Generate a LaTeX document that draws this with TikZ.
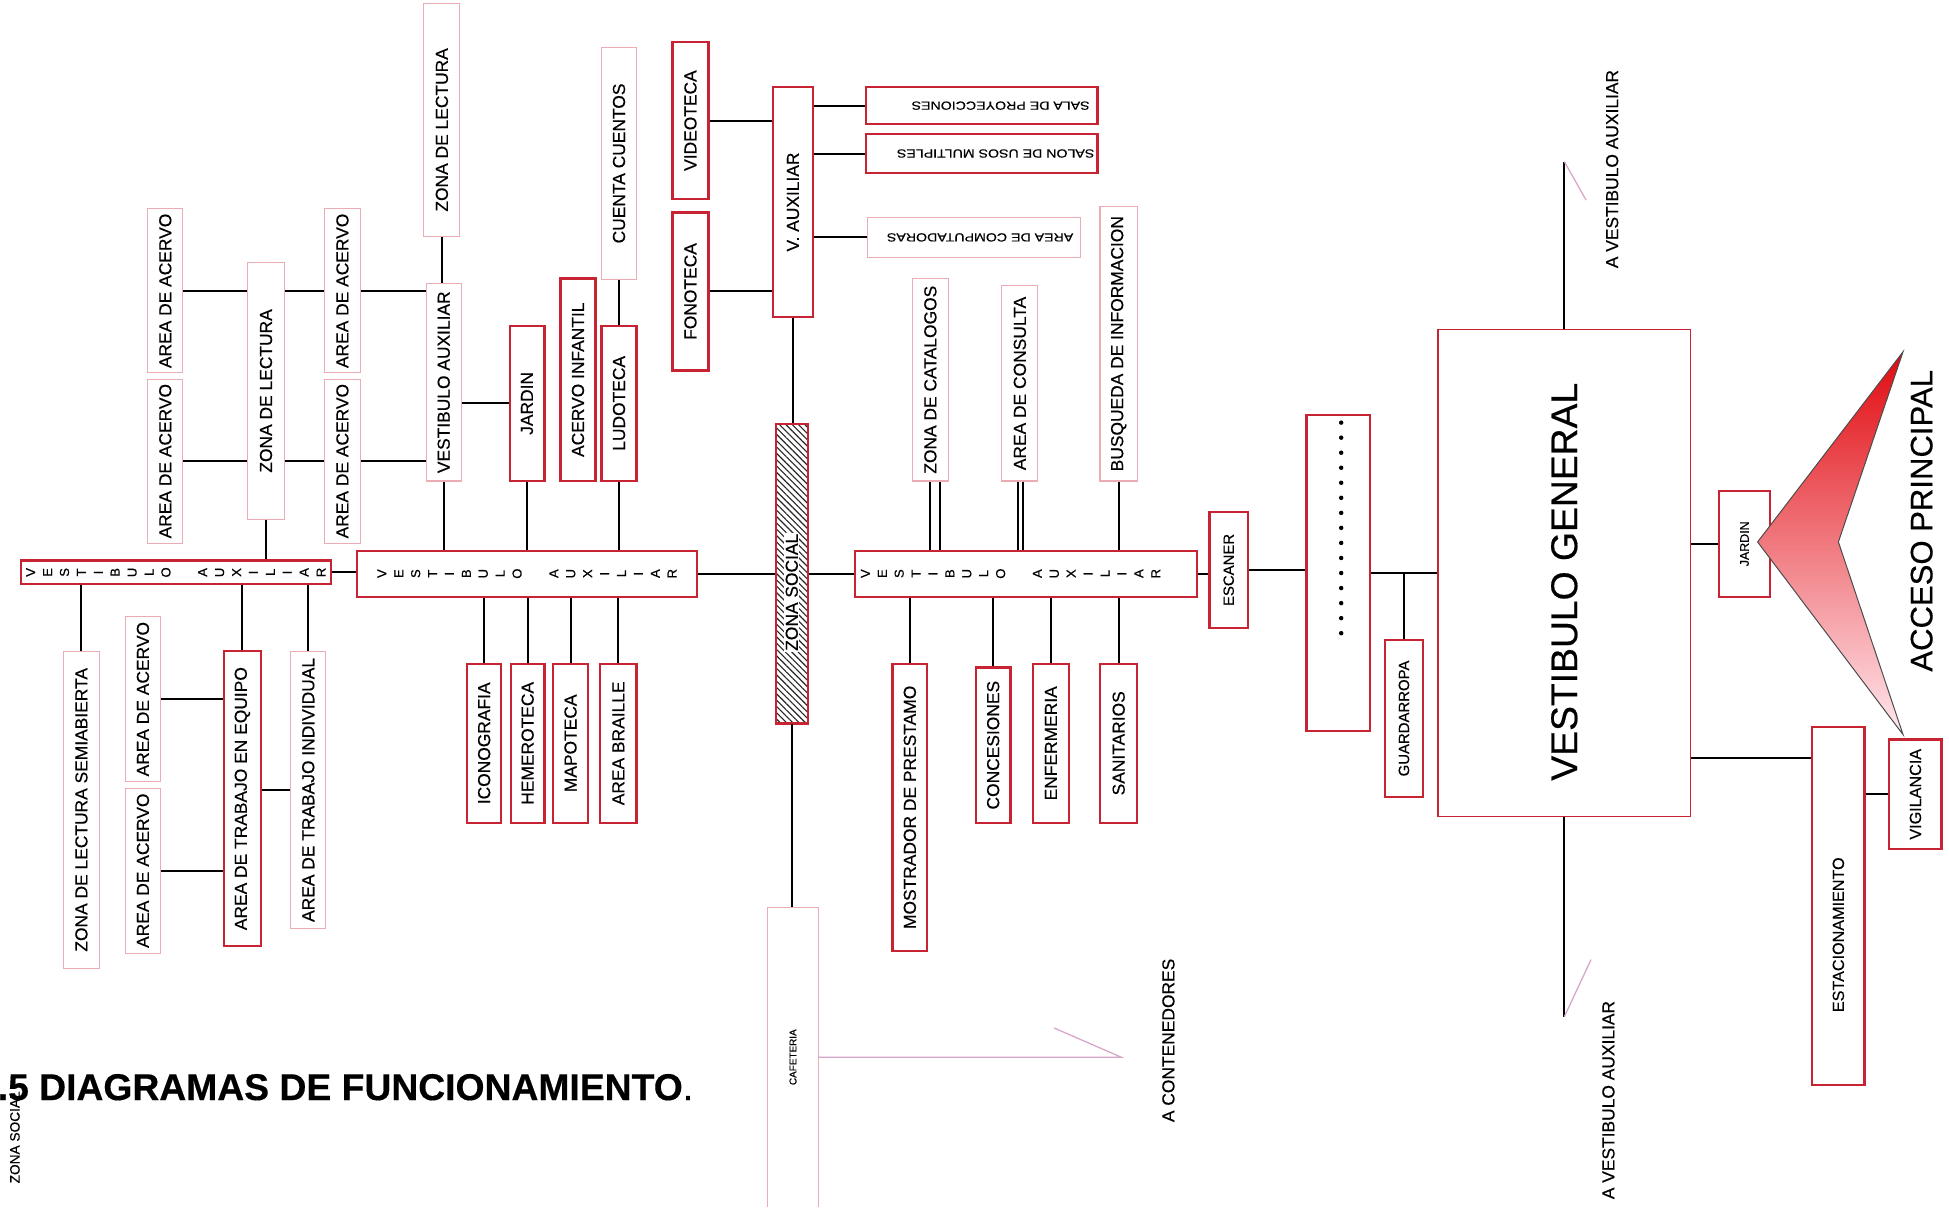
\documentclass[tikz,border=0pt]{standalone}
\usepackage{fontspec}
\setmainfont{Liberation Sans}[FakeBold=0.4]
\usepackage{graphicx}
\usetikzlibrary{patterns.meta}
\definecolor{boxred}{RGB}{200,35,50}
\definecolor{boxpink}{RGB}{236,172,182}
\definecolor{linepink}{RGB}{215,165,200}
\newcommand\rotv[1]{\rotatebox{90}{#1}}
\newcommand\rotu[1]{\rotatebox{180}{#1}}
\newcommand\rotl[1]{\makebox[13.6pt]{\rotatebox[origin=c]{90}{#1}}}
\newcommand\vestaux{\rotl{V}\rotl{E}\rotl{S}\rotl{T}\rotl{I}\rotl{B}\rotl{U}\rotl{L}\rotl{O}\hspace{16pt}\rotl{A}\rotl{U}\rotl{X}\rotl{I}\rotl{L}\rotl{I}\rotl{A}\rotl{R}}
\newcommand\mkbox[7]{%
  \pgfmathsetmacro\mkbw{#5-#3}\pgfmathsetmacro\mkbh{#6-#4}%
  \pgfmathsetmacro\mkbx{(#3+#5)/2}\pgfmathsetmacro\mkby{(#4+#6)/2}%
  \node[#1, minimum width=\mkbw pt, minimum height=\mkbh pt] (#2) at (\mkbx,\mkby) {#7};}
\tikzset{
  every node/.style={font=\fontsize{14}{16}\selectfont, text=black},
  redbox/.style={draw=boxred, line width=1.8pt, fill=white, inner sep=0pt},
  pinkbox/.style={draw=boxpink, line width=0.9pt, fill=white, inner sep=0pt},
  vgbox/.style={draw=boxred, line width=1.2pt, fill=white, inner sep=0pt},
  hatchbox/.style={draw=boxred, line width=1.8pt, inner sep=0pt,
     pattern={Lines[angle=-45,distance=3.6pt,line width=0.9pt]}, pattern color=black!85},
  plainbox/.style={inner sep=0pt},
  va/.style={font=\fontsize{10.5}{12}\selectfont},
  small/.style={font=\fontsize{9.5}{11}\selectfont},
  conn/.style={draw=black, line width=1.6pt},
  thinpink/.style={draw=linepink, line width=1pt},
}
\begin{document}
\begin{tikzpicture}[x=1pt,y=-1pt]
\useasboundingbox[fill=white] (0,0) rectangle (1568,972);

% ---------- left cluster
\mkbox{redbox,va}{va1}{17}{451}{266}{470}{\vestaux}
\mkbox{pinkbox}{acTL}{119}{168}{147}{300}{\rotv{AREA DE ACERVO}}
\mkbox{pinkbox}{acBL}{119}{305}{147}{437}{\rotv{AREA DE ACERVO}}
\mkbox{pinkbox}{zdl1}{199}{211}{229}{418}{\rotv{ZONA DE LECTURA}}
\mkbox{pinkbox}{acTR}{261}{168}{290}{300}{\rotv{AREA DE ACERVO}}
\mkbox{pinkbox}{acBR}{261}{305}{290}{437}{\rotv{AREA DE ACERVO}}
\mkbox{pinkbox}{zls}{51}{524}{80}{779}{\rotv{ZONA DE LECTURA SEMIABIERTA}}
\mkbox{pinkbox}{acU}{101}{496}{129}{629}{\rotv{AREA DE ACERVO}}
\mkbox{pinkbox}{acL}{101}{634}{129}{767}{\rotv{AREA DE ACERVO}}
\mkbox{redbox}{ate}{180}{524}{210}{761}{\rotv{AREA DE TRABAJO EN EQUIPO}}
\mkbox{pinkbox}{ati}{234}{524}{262}{747}{\rotv{AREA DE TRABAJO INDIVIDUAL}}

% ---------- middle-left cluster
\mkbox{redbox,va}{va2}{287}{443}{561}{480}{\vestaux}
\mkbox{pinkbox}{vaV}{343}{228}{371}{387}{\rotv{VESTIBULO AUXILIAR}}
\mkbox{pinkbox}{zdl2}{341}{3}{370}{190}{\rotv{ZONA DE LECTURA\hspace{16pt}}}
\mkbox{redbox}{jar1}{410}{262}{438}{387}{\rotv{JARDIN}}
\mkbox{redbox}{ainf}{451}{224}{479}{387}{\rotv{ACERVO INFANTIL}}
\mkbox{pinkbox}{cc}{484}{38}{512}{225}{\rotv{CUENTA CUENTOS}}
\mkbox{redbox}{lud}{484}{262}{512}{387}{\rotv{LUDOTECA}}
\mkbox{redbox}{icon}{376}{534}{403}{662}{\rotv{ICONOGRAFIA}}
\mkbox{redbox}{hem}{411}{534}{438}{662}{\rotv{HEMEROTECA}}
\mkbox{redbox}{mapo}{445}{534}{473}{662}{\rotv{MAPOTECA}}
\mkbox{redbox}{brai}{483}{534}{512}{662}{\rotv{AREA BRAILLE}}

% ---------- center
\mkbox{hatchbox}{zs}{624}{341}{650}{582}{}
\node[fill=white, inner sep=1pt] (zst) at ([yshift=-15pt]zs.center) {\rotv{ZONA SOCIAL}};
\mkbox{redbox}{vaux}{622}{70}{654}{255}{\rotv{V. AUXILIAR}}
\mkbox{redbox}{vid}{541}{34}{570}{160}{\rotv{VIDEOTECA}}
\mkbox{redbox}{fon}{541}{171}{570}{298}{\rotv{FONOTECA}}
\mkbox{redbox,small}{sala}{697}{70}{883}{100}{\rotu{\scalebox{1.2}[1]{SALA DE PROYECCIONES}\hspace{30pt}}}
\mkbox{redbox,small}{salon}{697}{108}{883}{139}{\rotu{\scalebox{1.2}[1]{SALON DE USOS MULTIPLES}\hspace{22pt}}}
\mkbox{pinkbox,small}{acomp}{698}{175}{869}{207}{\rotu{\scalebox{1.2}[1]{AREA DE COMPUTADORAS}\hspace{10pt}}}
\mkbox{plainbox,font=\fontsize{8}{9}\selectfont}{caf}{618}{730}{658}{971}{\rotv{CAFETERIA}}
\draw[draw=boxpink, line width=0.9pt] (caf.south west) -- (caf.north west) -- (caf.north east) -- (caf.south east);

% ---------- middle-right cluster
\mkbox{redbox,va}{va3}{688}{443}{963}{480}{\vestaux\hspace*{25pt}}
\mkbox{pinkbox}{zcat}{734}{224}{763}{387}{\rotv{ZONA DE CATALOGOS}}
\mkbox{pinkbox}{acons}{806}{230}{835}{387}{\rotv{AREA DE CONSULTA}}
\mkbox{pinkbox}{busq}{885}{166}{915}{387}{\rotv{BUSQUEDA DE INFORMACION}}
\mkbox{redbox}{most}{718}{534}{746}{765}{\rotv{MOSTRADOR DE PRESTAMO}}
\mkbox{redbox}{conc}{785}{537}{813}{662}{\rotv{CONCESIONES}}
\mkbox{redbox}{enf}{831}{534}{860}{662}{\rotv{ENFERMERIA}}
\mkbox{redbox}{san}{885}{534}{915}{662}{\rotv{SANITARIOS}}
\mkbox{redbox,font=\fontsize{12}{14}\selectfont}{esc}{973}{412}{1004}{505}{\rotv{ESCANER}}
\mkbox{redbox}{dots}{1051}{334}{1102}{588}{}
\foreach \k in {0,...,14} \fill (1079,{340+\k*12.1}) circle (1.8);
\mkbox{redbox,font=\fontsize{12}{14}\selectfont}{guard}{1114}{515}{1145}{641}{\rotv{GUARDARROPA}}

% ---------- right
\mkbox{vgbox,font=\fontsize{30}{32}\selectfont}{vg}{1157}{265}{1360}{657}{\rotv{VESTIBULO GENERAL\hspace{14pt}}}
\mkbox{redbox,font=\fontsize{10}{12}\selectfont}{jar2}{1383}{395}{1424}{480}{\rotv{JARDIN}}
\mkbox{redbox,font=\fontsize{13}{15}\selectfont}{est}{1458}{585}{1500}{873}{\rotv{ESTACIONAMIENTO\hspace{46pt}}}
\mkbox{redbox,font=\fontsize{13}{15}\selectfont}{vig}{1520}{595}{1562}{683}{\rotv{VIGILANCIA}}
\path[draw=black!70, line width=0.8pt, top color={rgb,255:red,225;green,10;blue,15}, bottom color={rgb,255:red,255;green,232;blue,238}]
  (1531,283) -- (1414,436) -- (1531,591) -- (1479,436) -- cycle;
\node[font=\fontsize{25}{28}\selectfont] (acc) at (1546,419) {\rotv{ACCESO PRINCIPAL}};

% ---------- free labels
\node (lblTop) at (1297,136) {\rotv{A VESTIBULO AUXILIAR}};
\node (lblBot) at (1294,885) {\rotv{A VESTIBULO AUXILIAR}};
\node (lblCont) at (940,837) {\rotv{A CONTENEDORES}};
\node[font=\fontsize{11}{13}\selectfont] (lblZS) at (12,915) {\rotv{ZONA SOCIAL}};

% ---------- connectors
\draw[conn] (acTL.east) -- (acTL.east -| zdl1.west);
\draw[conn] (acBL.east) -- (acBL.east -| zdl1.west);
\draw[conn] (acTR.west) -- (acTR.west -| zdl1.east);
\draw[conn] (acBR.west) -- (acBR.west -| zdl1.east);
\draw[conn] (acTR.east) -- (acTR.east -| vaV.west);
\draw[conn] (acBR.east) -- (acBR.east -| vaV.west);
\draw[conn] (zdl1.south) -- (zdl1.south |- va1.north);
\draw[conn] (va1.east) -- (va1.east -| va2.west);
\draw[conn] (zls.north) -- (zls.north |- va1.south);
\draw[conn] (ate.north) -- (ate.north |- va1.south);
\draw[conn] (ati.north) -- (ati.north |- va1.south);
\draw[conn] (acU.east) -- (acU.east -| ate.west);
\draw[conn] (acL.east) -- (acL.east -| ate.west);
\draw[conn] (ati.west) -- (ati.west -| ate.east);

\draw[conn] (zdl2.south) -- (zdl2.south |- vaV.north);
\draw[conn] (vaV.south) -- (vaV.south |- va2.north);
\draw[conn] (jar1.west) -- (jar1.west -| vaV.east);
\draw[conn] (jar1.south) -- (jar1.south |- va2.north);
\draw[conn] (cc.south) -- (lud.north);
\draw[conn] (lud.south) -- (lud.south |- va2.north);
\foreach \n in {icon,hem,mapo,brai} \draw[conn] (\n.north) -- (\n.north |- va2.south);
\draw[conn] (va2.east) -- (va2.east -| zs.west);

\draw[conn] (vaux.south) -- (vaux.south |- zs.north);
\draw[conn] (vid.east) -- (vid.east -| vaux.west);
\draw[conn] (fon.east) -- (fon.east -| vaux.west);
\draw[conn] (sala.west) -- (sala.west -| vaux.east);
\draw[conn] (salon.west) -- (salon.west -| vaux.east);
\draw[conn] (acomp.west) -- (acomp.west -| vaux.east);
\draw[conn] (zs.south) -- (zs.south |- caf.north);
\coordinate (contEnd) at (902,850.5);
\coordinate (contTick) at (848,827);
\draw[thinpink] (caf.east) -- (contEnd) -- (contTick);

\draw[conn] (zs.east) -- (zs.east -| va3.west);
\coordinate (zc1) at (zcat.south);
\coordinate (zc2) at ([xshift=8pt]zcat.south);
\draw[conn] (zc1) -- (zc1 |- va3.north);
\draw[conn] (zc2) -- (zc2 |- va3.north);
\coordinate (ac1) at ([xshift=-1.5pt]acons.south);
\coordinate (ac2) at ([xshift=2.5pt]acons.south);
\draw[conn] (ac1) -- (ac1 |- va3.north);
\draw[conn] (ac2) -- (ac2 |- va3.north);
\draw[conn] (busq.south) -- (busq.south |- va3.north);
\foreach \n in {most,conc,enf,san} \draw[conn] (\n.north) -- (\n.north |- va3.south);
\draw[conn] (va3.east) -- (va3.east -| esc.west);
\draw[conn] (esc.east) -- (esc.east -| dots.west);
\draw[conn] (dots.east) -- (dots.east -| vg.west);
\draw[conn] (guard.north) -- (guard.north |- dots.east);

\coordinate (vgTop) at (1258.5,130);
\coordinate (vgTopTick) at (1276,161);
\draw[conn] (vg.north) -- (vgTop);
\draw[thinpink] (vgTop) -- (vgTopTick);
\coordinate (vgBot) at (1258.5,818);
\coordinate (vgBotTick) at (1280,772);
\draw[conn] (vg.south) -- (vgBot);
\draw[thinpink] (vgBot) -- (vgBotTick);
\draw[conn] (jar2.west) -- (jar2.west -| vg.east);
\coordinate (estIn) at ([yshift=119pt]est.west);
\draw[conn] (estIn) -- (estIn -| vg.east);
\draw[conn] (vig.west) -- (vig.west -| est.east);

% ---------- title
\node[anchor=base west, inner sep=0pt, font=\fontsize{30}{32}\selectfont] (title) at (-2,885) {\textbf{.5 DIAGRAMAS DE FUNCIONAMIENTO}.};
\end{tikzpicture}
\end{document}
